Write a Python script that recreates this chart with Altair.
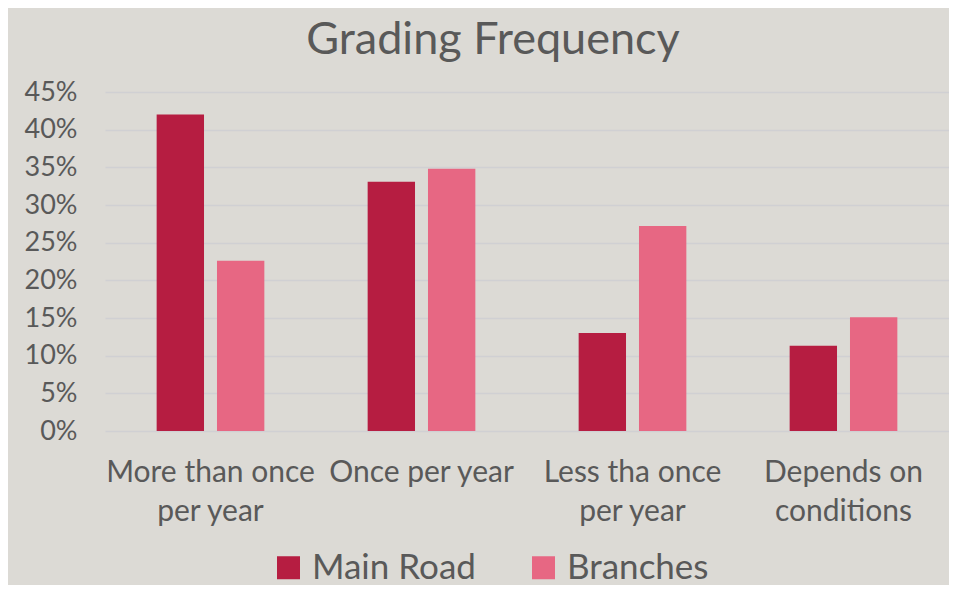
import altair as alt
import pandas as pd

categories = ["More than once per year", "Once per year", "Less tha once per year", "Depends on conditions"]
series = ["Main Road", "Branches"]
main_road = [0.42, 0.331, 0.13, 0.113]
branches = [0.226, 0.348, 0.272, 0.151]
y_ticks = [0, 0.05, 0.10, 0.15, 0.20, 0.25, 0.30, 0.35, 0.40, 0.45]
colors = ["#B61D41", "#E76783"]

rows = []
for c, m, b in zip(categories, main_road, branches):
    rows.append({"cat": c, "series": "Main Road", "value": m})
    rows.append({"cat": c, "series": "Branches", "value": b})
df = pd.DataFrame(rows)

label_expr = (
    "datum.value == 'More than once per year' ? ['More than once', 'per year'] : "
    "datum.value == 'Less tha once per year' ? ['Less tha once', 'per year'] : "
    "datum.value == 'Depends on conditions' ? ['Depends on', 'conditions'] : datum.value"
)

FONT = "Lato"
TXT = "#595959"

chart = (
    alt.Chart(df)
    .mark_bar()
    .encode(
        x=alt.X(
            "cat:N",
            sort=categories,
            scale=alt.Scale(paddingInner=0, paddingOuter=0),
            axis=alt.Axis(
                title=None,
                labelExpr=label_expr,
                labelAngle=0,
                labelFontSize=30,
                labelLineHeight=39,
                labelPadding=26,
                labelLimit=0,
                labelColor=TXT,
                labelFont=FONT,
                ticks=False,
                domain=False,
                grid=False,
            ),
        ),
        xOffset=alt.XOffset(
            "series:N",
            sort=series,
            scale=alt.Scale(paddingInner=0.215, paddingOuter=0.856),
        ),
        y=alt.Y(
            "value:Q",
            scale=alt.Scale(domain=[0, 0.45], nice=False),
            axis=alt.Axis(
                title=None,
                values=y_ticks,
                format=".0%",
                labelFontSize=27,
                labelColor=TXT,
                labelFont=FONT,
                labelPadding=28,
                ticks=False,
                domain=False,
                grid=True,
                gridColor="#D0D0D3",
                gridWidth=1.3,
            ),
        ),
        color=alt.Color(
            "series:N",
            sort=series,
            scale=alt.Scale(domain=series, range=colors),
            legend=alt.Legend(
                title=None,
                orient="none",
                direction="horizontal",
                legendX=166,
                legendY=458,
                padding=0,
                symbolType="square",
                symbolSize=529,
                symbolStrokeWidth=0,
                labelFontSize=35,
                labelFont=FONT,
                labelColor=TXT,
                labelOffset=6,
                labelLimit=0,
                columnPadding=50,
                symbolOpacity=1,
            ),
        ),
    )
    .properties(
        width=844,
        height=339,
        autosize=alt.AutoSizeParams(type="none"),
        padding={"left": 97, "top": 84, "right": 0, "bottom": 154},
        background="#DCDAD5",
        title=alt.Title(
            "Grading Frequency",
            fontSize=45,
            font=FONT,
            fontWeight="normal",
            color=TXT,
            anchor="middle",
            dx=-34,
            offset=15,
        ),
    )
    .configure_view(stroke=None)
)

chart.save("out.html", embed_options={"renderer": "svg", "actions": False})
